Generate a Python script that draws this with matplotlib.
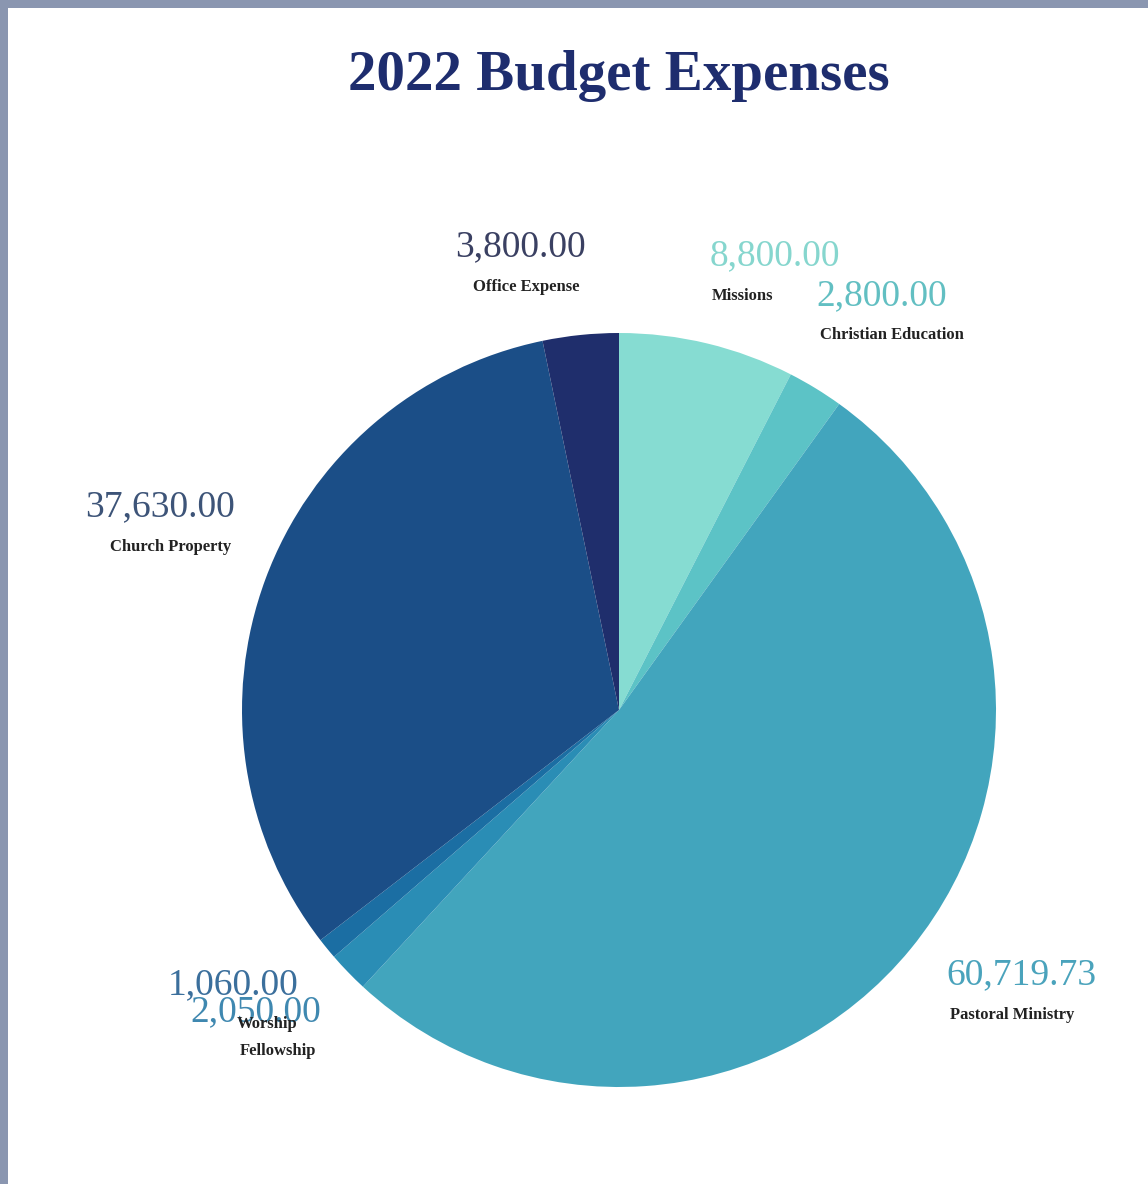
import matplotlib.pyplot as plt
from matplotlib.patches import Rectangle

# ── Data ────────────────────────────────────────────────────────────
categories = ["Missions", "Christian Education", "Pastoral Ministry",
              "Fellowship", "Worship", "Church Property", "Office Expense"]
amounts = [8800.00, 2800.00, 60719.73, 2050.00, 1060.00, 37630.00, 3800.00]

# ── Style ───────────────────────────────────────────────────────────
SLICE_COLORS = ["#86dcd2", "#5cc3c6", "#42a5bd", "#2a8db5",
                "#1b6ea3", "#1b4e87", "#1f2e6c"]
VALUE_COLORS = ["#86d6ce", "#62bfc2", "#4aa3bc", "#3f88b0",
                "#3b6f9c", "#3d5478", "#3a4062"]

# label anchors in pixel coords (x, y from top): value line, name line
VALUE_POS = [(775, 256), (882, 296), (1021, 975), (256, 1012),
             (233, 985), (160, 507), (520, 247)]
NAME_POS = [(743, 296), (892, 335), (1012, 1015), (278, 1051),
            (267, 1024), (171, 547), (526, 287)]

W, H = 1148, 1184
CX, CY, R = 619, 710, 377

fig = plt.figure(figsize=(W / 100, H / 100), dpi=100)
fig.patch.set_facecolor("white")
ax = fig.add_axes([0, 0, 1, 1])

ax.pie(amounts, colors=SLICE_COLORS, startangle=90, counterclock=False,
       center=(CX, H - CY), radius=R,
       wedgeprops=dict(linewidth=0, antialiased=True))
ax.set_xlim(0, W)
ax.set_ylim(0, H)
ax.set_aspect("equal")
ax.axis("off")

serif = ["Liberation Serif", "DejaVu Serif"]

for cat, amt, vc, (vx, vy), (nx, ny) in zip(categories, amounts, VALUE_COLORS,
                                            VALUE_POS, NAME_POS):
    ax.text(vx, H - vy, f"{amt:,.2f}", ha="center", va="center",
            fontsize=27, color=vc, family=serif)
    ax.text(nx, H - ny, cat, ha="center", va="center",
            fontsize=12, color="#222222", family=serif, fontweight="bold")

ax.text(619, H - 76, "2022 Budget Expenses", ha="center", va="center",
        fontsize=41, color="#1e2d6e", family=serif, fontweight="bold")

# frame strips along top and left edges
fig.patches.append(Rectangle((0, 1 - 8 / H), 1, 8 / H, transform=fig.transFigure,
                             facecolor="#8a96b0", edgecolor="none"))
fig.patches.append(Rectangle((0, 0), 8 / W, 1, transform=fig.transFigure,
                             facecolor="#8a96b0", edgecolor="none"))

fig.savefig("out.png", dpi=100)
